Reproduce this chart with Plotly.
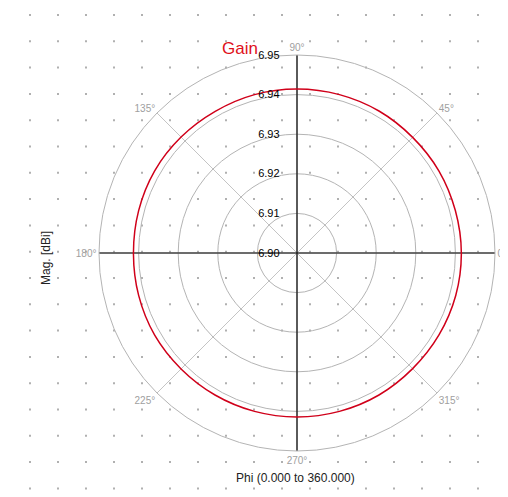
import numpy as np
import plotly.graph_objects as go

W, H = 508, 497

# Data
phi_deg = [0, 15, 30, 45, 60, 75, 90, 105, 120, 135, 150, 165, 180,
           195, 210, 225, 240, 255, 270, 285, 300, 315, 330, 345, 360]
gain_dbi = [6.9415, 6.9414, 6.9414, 6.9413, 6.9414, 6.9414, 6.9414, 6.9414, 6.9413, 6.9414, 6.9415, 6.9414, 6.9413,
            6.9414, 6.9415, 6.9414, 6.9414, 6.9414, 6.9414, 6.9414, 6.9414, 6.9413, 6.9414, 6.9415, 6.9415]
radial_ticks = [6.90, 6.91, 6.92, 6.93, 6.94, 6.95]
angle_ticks = [0, 45, 90, 135, 180, 225, 270, 315]
angle_labels = ["0°", "45°", "90°", "135°", "180°", "225°", "270°", "315°"]

r_min, r_max = radial_ticks[0], radial_ticks[-1]
R = 198
CY = 245
PAD = "\u00a0" * 5

fig = go.Figure()

# background dotted grid (decoration)
gx = np.arange(22, W, 28)
gy = np.arange(7, H, 26.3)
XX, YY = np.meshgrid(gx, gy)
fig.add_trace(go.Scatter(x=XX.ravel(), y=YY.ravel(), mode="markers",
                         marker=dict(size=2, color="#b0b0b0", symbol="square"),
                         hoverinfo="skip", showlegend=False, xaxis="x", yaxis="y"))

# black cross axes
fig.add_trace(go.Scatterpolar(r=[r_max, r_min, r_max], theta=[0, 0, 180], mode="lines",
                              line=dict(color="#444444", width=1.3), hoverinfo="skip", showlegend=False))
fig.add_trace(go.Scatterpolar(r=[r_max, r_min, r_max], theta=[90, 90, 270], mode="lines",
                              line=dict(color="#111111", width=1.3), hoverinfo="skip", showlegend=False))

# gain trace
fig.add_trace(go.Scatterpolar(r=gain_dbi, theta=phi_deg, mode="lines",
                              line=dict(color="#d0001a", width=1.5, shape="spline"),
                              showlegend=False, name="Gain"))

fig.update_layout(
    width=W, height=H,
    margin=dict(l=0, r=0, t=0, b=0),
    paper_bgcolor="white", plot_bgcolor="rgba(0,0,0,0)",
    font=dict(family="Liberation Sans, Arial, sans-serif", size=12, color="black"),
    xaxis=dict(domain=[0, 1], range=[0, W], visible=False, fixedrange=True),
    yaxis=dict(domain=[0, 1], range=[H, 0], visible=False, fixedrange=True),
    polar=dict(
        domain=dict(x=[(289 - R) / W, (289 + R) / W],
                    y=[(H - CY - R) / H, (H - CY + R) / H]),
        bgcolor="rgba(0,0,0,0)",
        radialaxis=dict(range=[r_min, r_max], tickvals=radial_ticks,
                        ticktext=[f"{v:.2f}" + PAD for v in radial_ticks],
                        angle=90, tickangle=90, side="counterclockwise",
                        showline=False, ticks="", gridcolor="#b4b4b4", gridwidth=1,
                        tickfont=dict(size=11, color="black")),
        angularaxis=dict(tickvals=angle_ticks, ticktext=angle_labels,
                         rotation=0, direction="counterclockwise",
                         showline=True, linecolor="#b4b4b4", linewidth=1,
                         ticks="", gridcolor="#c4c4c4", gridwidth=1,
                         tickfont=dict(size=10, color="#a0a0a0")),
    ),
    annotations=[
        dict(text="Gain", x=232, y=40, xref="x", yref="y", showarrow=False,
             font=dict(size=17, color="#e0101a")),
        dict(text="Mag. [dBi]", x=38, y=250, xref="x", yref="y", showarrow=False,
             textangle=-90, font=dict(size=12, color="#222222")),
        dict(text="Phi (0.000 to 360.000)", x=287, y=470, xref="x", yref="y", showarrow=False,
             font=dict(size=12, color="#222222")),
    ],
)

fig.write_html("out.html")
